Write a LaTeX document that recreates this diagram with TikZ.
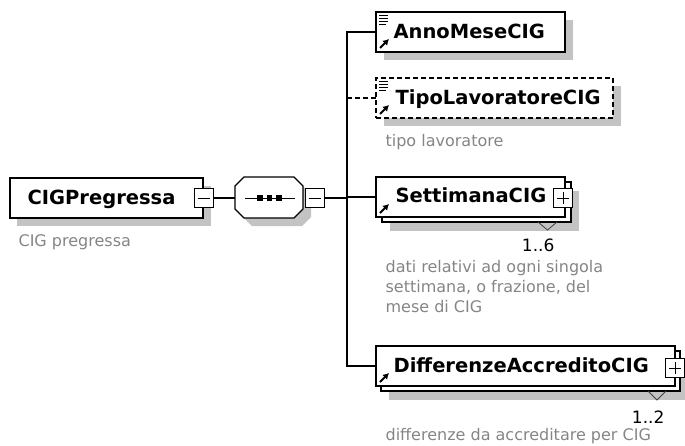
\documentclass[tikz,border=0pt]{standalone}
\usepackage{fontspec}
\setmainfont{DejaVu Sans}
\usetikzlibrary{calc,arrows.meta}
\definecolor{shadowgray}{HTML}{C3C3C3}
\definecolor{descgray}{HTML}{858585}
\begin{document}
\begin{tikzpicture}[x=1pt,y=-1pt,line width=1.2pt,
  ebox/.style={draw=black,fill=white,inner sep=0,outer sep=0,anchor=north west,minimum height=40pt},
  sq/.style={draw=black,fill=white,inner sep=0,outer sep=0,minimum size=19pt,line width=1pt},
  lbl/.style={font=\fontsize{19.5}{22}\selectfont\bfseries,inner sep=0,anchor=base west},
  desc/.style={font=\fontsize{16}{20}\selectfont,text=descgray,inner sep=0,anchor=base west,align=left},
  card/.style={font=\fontsize{17}{20}\selectfont,inner sep=0,anchor=base east},
  dropshade/.style={fill=shadowgray,draw=none},
  icoarrow/.style={line width=2pt,-{Latex[length=6pt,width=7pt]}},
  icolines/.style={line width=1pt},
  dashedline/.style={dash pattern=on 5pt off 3pt},
]
\useasboundingbox (0,0) rectangle (685,445);

% ---------- shadows ----------
\fill[dropshade] (17,186) rectangle (211,226);
\def\octpath{(244,177) -- (294,177) -- (303,186) -- (303,209) -- (294,218) -- (244,218) -- (235,209) -- (235,186) -- cycle}
\fill[dropshade,shift={(8,8)}] \octpath;
\fill[dropshade] (384,20) rectangle (573,60);
\fill[dropshade] (384,86) rectangle (621,126);
\fill[dropshade] (390,191) rectangle (579,231);
\fill[dropshade] (389,360) rectangle (688,400);

% ---------- root element ----------
\node[ebox,minimum width=193pt] (cig) at (10,178) {};
\node[lbl] (cigl) at (27,204) {CIGPregressa};
\node[sq] (cigm) at (203.5,198) {};
\draw[line width=1pt] ([xshift=-6pt]cigm.center) -- ([xshift=6pt]cigm.center);
\node[desc] (cigd) at (18,246) {CIG pregressa};

% ---------- sequence compositor ----------
\node[inner sep=0,outer sep=0,minimum width=68pt,minimum height=41pt,anchor=north west] (seq) at (235,177) {};
\draw[fill=white] \octpath;
\draw[line width=1pt] (245,198) -- (295,198);
\foreach \cx in {260,269.5,279}{\fill (\cx-2.8,195.2) rectangle (\cx+2.8,200.8);}
\node[sq] (seqm) at (314.5,198) {};
\draw[line width=1pt] ([xshift=-6pt]seqm.center) -- ([xshift=6pt]seqm.center);
\draw (cigm.east) -- (seq.west |- cigm.east);

% ---------- children ----------
\node[ebox,minimum width=189pt] (anno) at (376,12) {};
\node[lbl] (annol) at (393,38) {AnnoMeseCIG};

\node[ebox,minimum width=237pt,dashedline] (tipo) at (376,78) {};
\node[lbl] (tipol) at (395,104) {TipoLavoratoreCIG};
\node[desc] (tipod) at (385,146) {tipo lavoratore};

\node[ebox,minimum width=189pt] (settb) at (382,182) {};
\node[ebox,minimum width=189pt] (sett) at (376,177) {};
\node[lbl] (settl) at (395,202) {SettimanaCIG};
\node[sq] (settp) at (563,198) {};
\draw[line width=1pt] ([xshift=-6pt]settp.center) -- ([xshift=6pt]settp.center)
  ([yshift=-6pt]settp.center) -- ([yshift=6pt]settp.center);
\draw[line width=0.8pt,draw=black!75] (538,222) -- (547.5,230) -- (557,222);
\node[card] (settc) at (555,251) {1..6};
\node[desc] (settd) at (385,312) {dati relativi ad ogni singola\\settimana, o frazione, del\\mese di CIG};

\node[ebox,minimum width=299pt] (difb) at (381,351) {};
\node[ebox,minimum width=299pt] (dif) at (376,346) {};
\node[lbl] (difl) at (393,372) {DifferenzeAccreditoCIG};
\node[sq] (difp) at (675,368) {};
\draw[line width=1pt] ([xshift=-6pt]difp.center) -- ([xshift=6pt]difp.center)
  ([yshift=-6pt]difp.center) -- ([yshift=6pt]difp.center);
\draw[line width=0.8pt,draw=black!75] (648,391) -- (657,400) -- (666,391);
\node[card] (difc) at (665,423) {1..2};
\node[desc] (difd) at (385,440) {differenze da accreditare per CIG};

% ---------- icons ----------
\foreach \b in {anno,tipo}{
  \draw[icolines] ($(\b.north west)+(3,3.5)$) -- ++(9,0);
  \draw[icolines] ($(\b.north west)+(3,6.5)$) -- ++(9,0);
  \draw[icolines] ($(\b.north west)+(3,9.5)$) -- ++(9,0);
  \draw[icolines] ($(\b.north west)+(3,12.5)$) -- ++(7,0);
}
\foreach \b in {anno,tipo,sett,dif}{
  \draw[icoarrow] ($(\b.south west)+(4,-4)$) -- ++(9,-9);
}

% ---------- connectors ----------
\coordinate (sp) at (347,198);
\draw (seqm.east) -- (sp);
\draw (anno.west) -- (anno.west -| sp) -- (dif.west -| sp) -- (dif.west);
\draw (sett.west -| sp) -- (sett.west);
\draw[dashedline] (tipo.west -| sp) -- (tipo.west);
\end{tikzpicture}
\end{document}
